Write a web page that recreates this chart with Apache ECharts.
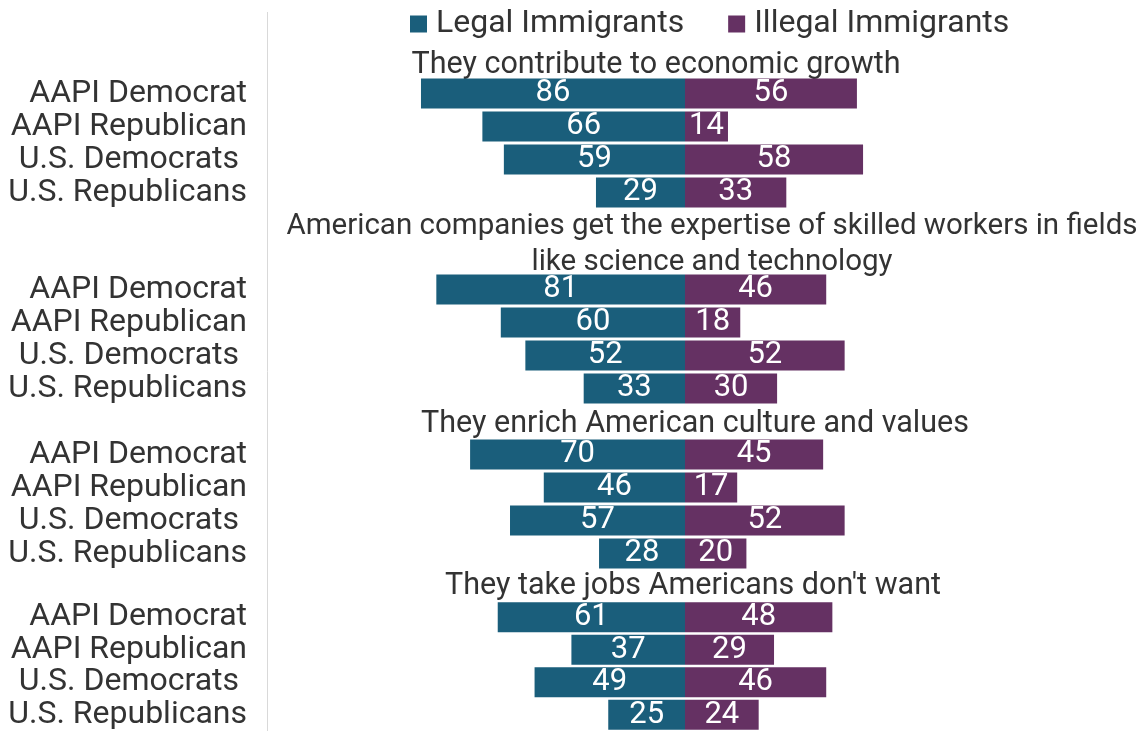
<!DOCTYPE html>
<html>
<head>
<meta charset="utf-8">
<script src="https://cdn.jsdelivr.net/npm/echarts@6/dist/echarts.min.js"></script>
<style>
  html, body { margin: 0; padding: 0; background: #fff; }
  #chart { width: 1145px; height: 731px; }
</style>
</head>
<body>
<div id="chart"></div>
<script>
// Respondent groups (rows of every panel)
const groups = ['AAPI Democrat', 'AAPI Republican', 'U.S. Democrats ', 'U.S. Republicans'];

// Statements (one panel each)
const statements = [
  'They contribute to economic growth',
  'American companies get the expertise of skilled workers in fields\nlike science and technology',
  'They enrich American culture and values',
  "They take jobs Americans don't want"
];

// Percent agreeing, per statement, in the order of `groups`
const legalImmigrants = [
  [86, 66, 59, 29],
  [81, 60, 52, 33],
  [70, 46, 57, 28],
  [61, 37, 49, 25]
];
const illegalImmigrants = [
  [56, 14, 58, 33],
  [46, 18, 52, 30],
  [45, 17, 52, 20],
  [48, 29, 46, 24]
];

const seriesNames = ['Legal Immigrants', 'Illegal Immigrants'];
const colors = ['#1a5e7b', '#653163'];

const FONT = 'Roboto, "Noto Sans", sans-serif';
const textColor = '#333';

// Layout of the four panels
const panelTops = [77, 273, 438, 601];
const rowH = 33;
const gridLeft = 378;
const gridRight = 153;

const grids = [], xAxes = [], yAxes = [], series = [];
panelTops.forEach((top, i) => {
  grids.push({ left: gridLeft, right: gridRight, top: top, height: rowH * groups.length });
  xAxes.push({
    gridIndex: i, type: 'value', min: -100, max: 100,
    show: false, splitLine: { show: false }
  });
  yAxes.push({
    gridIndex: i, type: 'category', data: groups, inverse: true,
    axisLine: { show: false }, axisTick: { show: false },
    axisLabel: {
      interval: 0, hideOverlap: false,
      margin: 131, fontSize: 32, color: textColor, fontFamily: FONT,
      padding: [8, 0, 0, 0]
    }
  });
  const labelCfg = {
    show: true, position: 'inside', color: '#fff',
    fontSize: 31, fontFamily: FONT, padding: [5, 0, 0, 0],
    formatter: p => Math.abs(p.value)
  };
  series.push({
    name: seriesNames[0], type: 'bar', xAxisIndex: i, yAxisIndex: i,
    data: legalImmigrants[i].map(v => -v),
    barWidth: 30, barGap: '-100%',
    itemStyle: { color: colors[0] },
    label: labelCfg
  });
  series.push({
    name: seriesNames[1], type: 'bar', xAxisIndex: i, yAxisIndex: i,
    data: illegalImmigrants[i],
    barWidth: 30, barGap: '-100%',
    itemStyle: { color: colors[1] },
    label: labelCfg
  });
});

// Panel headings
const headingPos = [
  { x: 656, y: 65, size: 30.5 },
  { x: 712, y: 245, size: 29.5 },
  { x: 695, y: 424, size: 30.5 },
  { x: 693, y: 586, size: 30.5 }
];
const graphics = statements.map((s, i) => ({
  type: 'text',
  x: headingPos[i].x, y: headingPos[i].y,
  style: {
    text: s, fill: textColor, font: headingPos[i].size + 'px ' + FONT,
    align: 'center', verticalAlign: 'middle', lineHeight: 36
  }
}));
// Divider between row labels and bars
graphics.push({
  type: 'line',
  shape: { x1: 267.5, y1: 12, x2: 267.5, y2: 731 },
  style: { stroke: '#d9d9d9', lineWidth: 1 }
});

const chart = echarts.init(document.getElementById('chart'));
chart.setOption({
  animation: false,
  legend: {
    data: seriesNames,
    left: 405, top: 3,
    itemWidth: 17, itemHeight: 17, itemGap: 44,
    icon: 'rect',
    textStyle: { fontSize: 32, color: textColor, fontFamily: FONT, padding: [0, 0, 0, 4] }
  },
  grid: grids,
  xAxis: xAxes,
  yAxis: yAxes,
  series: series,
  graphic: graphics
});
</script>
</body>
</html>
